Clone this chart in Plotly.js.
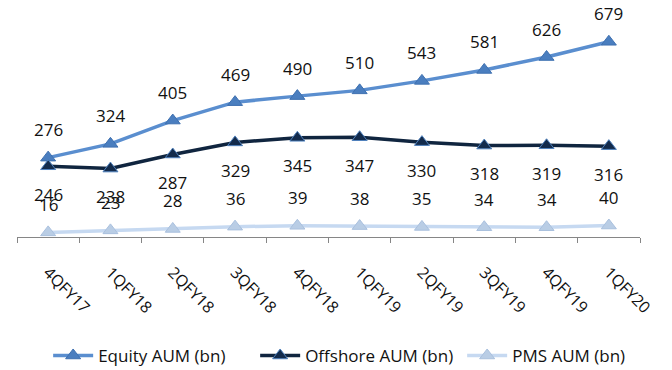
<!DOCTYPE html>
<html>
<head>
<meta charset="utf-8">
<script src="https://cdn.plot.ly/plotly-3.0.1.min.js"></script>
<style>
  html, body { margin: 0; padding: 0; background: #fff; }
  #chart { width: 672px; height: 370px; }
</style>
</head>
<body>
<div id="chart"></div>
<script>
// Quarterly assets under management, in billions
const quarters = ["4QFY17", "1QFY18", "2QFY18", "3QFY18", "4QFY18", "1QFY19", "2QFY19", "3QFY19", "4QFY19", "1QFY20"];
const equityAUM = [276, 324, 405, 469, 490, 510, 543, 581, 626, 679];
const offshoreAUM = [246, 238, 287, 329, 345, 347, 330, 318, 319, 316];
const pmsAUM = [16, 23, 28, 36, 39, 38, 35, 34, 34, 40];

const FONT = "Open Sans, Liberation Sans, sans-serif";

const series = [
  { name: "Equity AUM (bn)", values: equityAUM, line: "#5A8ECF", marker: "#4A7EBF", edge: "#3E70B0", labelShift: 28 },
  { name: "Offshore AUM (bn)", values: offshoreAUM, line: "#10253F", marker: "#132B4C", edge: "#4F81BD", labelShift: -28 },
  { name: "PMS AUM (bn)", values: pmsAUM, line: "#C6D9F1", marker: "#B9CDE5", edge: "#A9C0DE", labelShift: 28 }
];

const traces = series.map(s => ({
  type: "scatter",
  mode: "lines+markers",
  name: s.name,
  x: quarters,
  y: s.values,
  line: { color: s.line, width: 3.5 },
  marker: { symbol: "triangle-up", size: 13, color: s.marker, line: { color: s.edge, width: 1 } },
  hoverinfo: "skip"
}));

// value labels, offset above or below each point
const annotations = [];
series.forEach(s => {
  s.values.forEach((v, i) => {
    annotations.push({
      x: quarters[i], y: v, xref: "x", yref: "y",
      text: String(v), showarrow: false,
      yshift: s.labelShift, yanchor: "middle", xanchor: "center",
      font: { family: FONT, size: 17, color: "#111" }
    });
  });
});

const layout = {
  width: 672, height: 370,
  margin: { l: 17, r: 32, t: 7, b: 133 },
  paper_bgcolor: "#fff", plot_bgcolor: "#fff",
  showlegend: true,
  legend: {
    orientation: "h",
    xref: "paper", yref: "container",
    x: 0.05, xanchor: "left",
    y: 0.038, yanchor: "middle",
    font: { family: FONT, size: 17, color: "#111" },
    itemwidth: 40, entrywidth: 152, tracegroupgap: 0
  },
  xaxis: {
    type: "category",
    range: [-0.5, 9.5],
    showgrid: false, zeroline: false,
    showline: true, linecolor: "#868686", linewidth: 1,
    ticks: "outside", ticklen: 5, tickcolor: "#868686", tickwidth: 1,
    tickson: "boundaries",
    tickangle: 45,
    ticklabelstandoff: 19,
    tickfont: { family: FONT, size: 16, color: "#111" }
  },
  yaxis: {
    range: [0, 800],
    visible: false,
    showgrid: false, zeroline: false
  },
  annotations: annotations
};

Plotly.newPlot("chart", traces, layout, { displayModeBar: false, staticPlot: true });
</script>
</body>
</html>
